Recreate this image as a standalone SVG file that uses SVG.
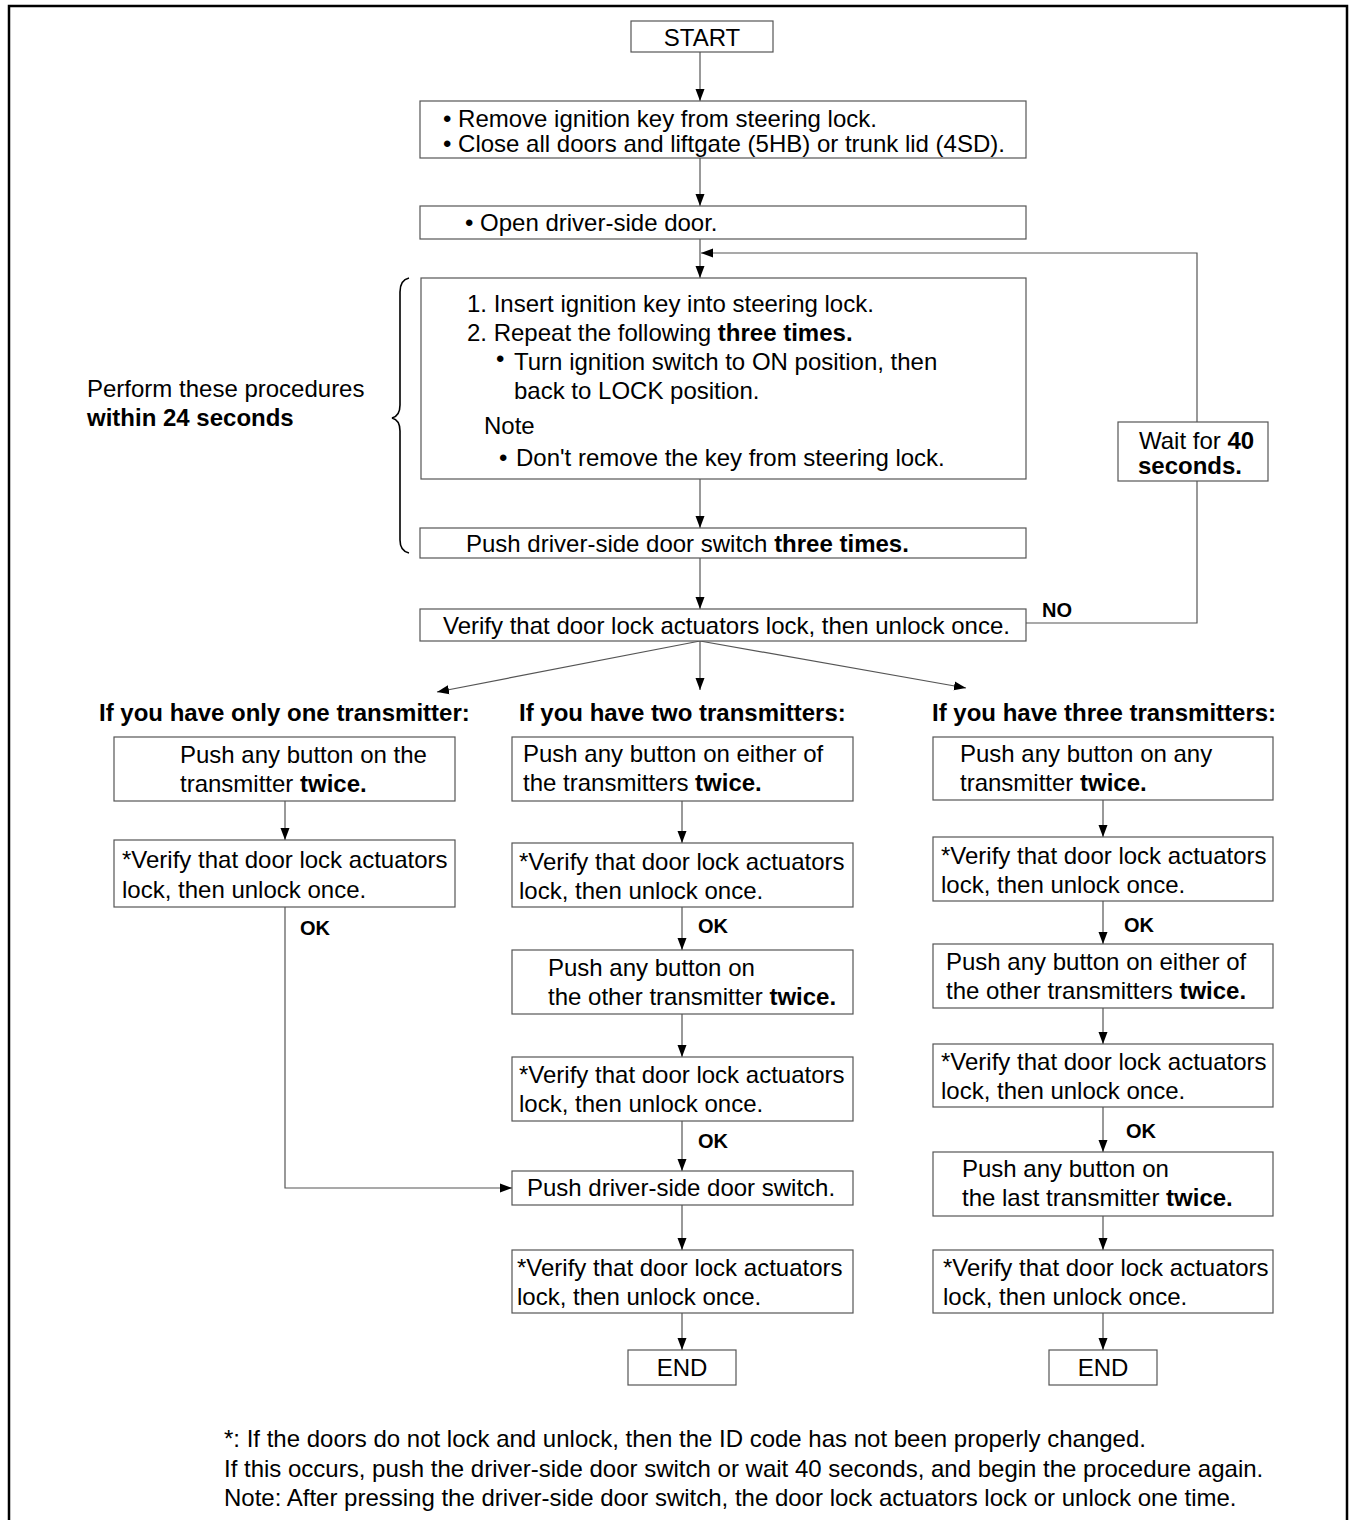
<svg xmlns="http://www.w3.org/2000/svg" width="1354" height="1520" viewBox="0 0 1354 1520">
<style>
text{font-family:"Liberation Sans",Arial,sans-serif;font-size:24px;fill:#000}
.b{font-weight:bold}
.lbl{font-weight:bold;font-size:20px}
.box{fill:#fff;stroke:#555;stroke-width:1.2}
.ln{fill:none;stroke:#555;stroke-width:1.2}
.c{text-anchor:middle}
</style>
<defs>
<marker id="ah" markerUnits="userSpaceOnUse" markerWidth="13" markerHeight="10" refX="12" refY="5" orient="auto">
<path d="M0,0.5 L12,5 L0,9.5 z" fill="#000"/>
</marker>
</defs>
<rect x="0" y="0" width="1354" height="1520" fill="#fff"/>
<path d="M9,1520 V6 H1347 V1520" fill="none" stroke="#000" stroke-width="2.5"/>

<g id="connectors">
<line class="ln" x1="700" y1="52" x2="700" y2="101" marker-end="url(#ah)"/>
<line class="ln" x1="700" y1="158" x2="700" y2="206" marker-end="url(#ah)"/>
<line class="ln" x1="700" y1="239" x2="700" y2="278" marker-end="url(#ah)"/>
<line class="ln" x1="700" y1="479" x2="700" y2="528" marker-end="url(#ah)"/>
<line class="ln" x1="700" y1="558" x2="700" y2="609" marker-end="url(#ah)"/>
<polyline class="ln" points="1026,623 1197,623 1197,253 701,253" marker-end="url(#ah)"/>
<line class="ln" x1="700" y1="641" x2="437" y2="692" marker-end="url(#ah)"/>
<line class="ln" x1="700" y1="641" x2="700" y2="690" marker-end="url(#ah)"/>
<line class="ln" x1="700" y1="641" x2="966" y2="688" marker-end="url(#ah)"/>
<line class="ln" x1="285" y1="801" x2="285" y2="840" marker-end="url(#ah)"/>
<polyline class="ln" points="285,907 285,1188 512,1188" marker-end="url(#ah)"/>
<line class="ln" x1="682" y1="801" x2="682" y2="843" marker-end="url(#ah)"/>
<line class="ln" x1="682" y1="907" x2="682" y2="950" marker-end="url(#ah)"/>
<line class="ln" x1="682" y1="1014" x2="682" y2="1057" marker-end="url(#ah)"/>
<line class="ln" x1="682" y1="1121" x2="682" y2="1171" marker-end="url(#ah)"/>
<line class="ln" x1="682" y1="1205" x2="682" y2="1250" marker-end="url(#ah)"/>
<line class="ln" x1="682" y1="1313" x2="682" y2="1350" marker-end="url(#ah)"/>
<line class="ln" x1="1103" y1="800" x2="1103" y2="837" marker-end="url(#ah)"/>
<line class="ln" x1="1103" y1="901" x2="1103" y2="944" marker-end="url(#ah)"/>
<line class="ln" x1="1103" y1="1008" x2="1103" y2="1044" marker-end="url(#ah)"/>
<line class="ln" x1="1103" y1="1107" x2="1103" y2="1152" marker-end="url(#ah)"/>
<line class="ln" x1="1103" y1="1216" x2="1103" y2="1250" marker-end="url(#ah)"/>
<line class="ln" x1="1103" y1="1313" x2="1103" y2="1350" marker-end="url(#ah)"/>
<text x="1042" y="617" class="lbl">NO</text>
<text x="300" y="935" class="lbl">OK</text>
<text x="698" y="933" class="lbl">OK</text>
<text x="698" y="1148" class="lbl">OK</text>
<text x="1124" y="932" class="lbl">OK</text>
<text x="1126" y="1138" class="lbl">OK</text>
</g>

<g id="start">
<rect class="box" x="631" y="21" width="142" height="31"/>
<text x="702" y="46" class="c">START</text>
</g>
<g id="remove-key">
<rect class="box" x="420" y="101" width="606" height="57"/>
<text x="443" y="127">• Remove ignition key from steering lock.</text>
<text x="443" y="152">• Close all doors and liftgate (5HB) or trunk lid (4SD).</text>
</g>
<g id="open-door">
<rect class="box" x="420" y="206" width="606" height="33"/>
<text x="465" y="231">• Open driver-side door.</text>
</g>
<g id="insert-key">
<rect class="box" x="421" y="278" width="605" height="201"/>
<text x="467" y="312">1. Insert ignition key into steering lock.</text>
<text x="467" y="341">2. Repeat the following <tspan class="b">three times.</tspan></text>
<text x="496" y="367">•</text>
<text x="514" y="370">Turn ignition switch to ON position, then</text>
<text x="514" y="399">back to LOCK position.</text>
<text x="484" y="434">Note</text>
<text x="499" y="466">•</text>
<text x="516" y="466">Don't remove the key from steering lock.</text>
</g>
<g id="push-three">
<rect class="box" x="420" y="528" width="606" height="30"/>
<text x="466" y="552">Push driver-side door switch <tspan class="b">three times.</tspan></text>
</g>
<g id="verify-main">
<rect class="box" x="420" y="609" width="606" height="32"/>
<text x="443" y="634">Verify that door lock actuators lock, then unlock once.</text>
</g>
<g id="wait">
<rect class="box" x="1118" y="422" width="150" height="59"/>
<text x="1139" y="449">Wait for <tspan class="b">40</tspan></text>
<text x="1138" y="474" class="b">seconds.</text>
</g>
<g id="brace">
<path d="M409,278 Q400,280 400,292 V405 Q400,416 392,418 Q400,420 400,431 V540 Q400,551 409,553" fill="none" stroke="#000" stroke-width="1.6"/>
<text x="87" y="397">Perform these procedures</text>
<text x="87" y="426" class="b">within 24 seconds</text>
</g>

<g id="headers">
<text x="99" y="721" class="b">If you have only one transmitter:</text>
<text x="519" y="721" class="b">If you have two transmitters:</text>
<text x="932" y="721" class="b">If you have three transmitters:</text>
</g>

<g id="one-push">
<rect class="box" x="114" y="737" width="341" height="64"/>
<text x="180" y="763">Push any button on the</text>
<text x="180" y="792">transmitter <tspan class="b">twice.</tspan></text>
</g>
<g id="one-verify">
<rect class="box" x="114" y="840" width="341" height="67"/>
<text x="122" y="868">*Verify that door lock actuators</text>
<text x="122" y="898">lock, then unlock once.</text>
</g>

<g id="two-push1">
<rect class="box" x="512" y="737" width="341" height="64"/>
<text x="523" y="762">Push any button on either of</text>
<text x="523" y="791">the transmitters <tspan class="b">twice.</tspan></text>
</g>
<g id="two-verify1">
<rect class="box" x="512" y="843" width="341" height="64"/>
<text x="519" y="870">*Verify that door lock actuators</text>
<text x="519" y="899">lock, then unlock once.</text>
</g>
<g id="two-push2">
<rect class="box" x="512" y="950" width="341" height="64"/>
<text x="548" y="976">Push any button on</text>
<text x="548" y="1005">the other transmitter <tspan class="b">twice.</tspan></text>
</g>
<g id="two-verify2">
<rect class="box" x="512" y="1057" width="341" height="64"/>
<text x="519" y="1083">*Verify that door lock actuators</text>
<text x="519" y="1112">lock, then unlock once.</text>
</g>
<g id="push-door">
<rect class="box" x="512" y="1171" width="341" height="34"/>
<text x="527" y="1196">Push driver-side door switch.</text>
</g>
<g id="two-verify3">
<rect class="box" x="512" y="1250" width="341" height="63"/>
<text x="517" y="1276">*Verify that door lock actuators</text>
<text x="517" y="1305">lock, then unlock once.</text>
</g>
<g id="end-two">
<rect class="box" x="628" y="1350" width="108" height="35"/>
<text x="682" y="1376" class="c">END</text>
</g>

<g id="three-push1">
<rect class="box" x="933" y="737" width="340" height="63"/>
<text x="960" y="762">Push any button on any</text>
<text x="960" y="791">transmitter <tspan class="b">twice.</tspan></text>
</g>
<g id="three-verify1">
<rect class="box" x="933" y="837" width="340" height="64"/>
<text x="941" y="864">*Verify that door lock actuators</text>
<text x="941" y="893">lock, then unlock once.</text>
</g>
<g id="three-push2">
<rect class="box" x="933" y="944" width="340" height="64"/>
<text x="946" y="970">Push any button on either of</text>
<text x="946" y="999">the other transmitters <tspan class="b">twice.</tspan></text>
</g>
<g id="three-verify2">
<rect class="box" x="933" y="1044" width="340" height="63"/>
<text x="941" y="1070">*Verify that door lock actuators</text>
<text x="941" y="1099">lock, then unlock once.</text>
</g>
<g id="three-push3">
<rect class="box" x="933" y="1152" width="340" height="64"/>
<text x="962" y="1177">Push any button on</text>
<text x="962" y="1206">the last transmitter <tspan class="b">twice.</tspan></text>
</g>
<g id="three-verify3">
<rect class="box" x="933" y="1250" width="340" height="63"/>
<text x="943" y="1276">*Verify that door lock actuators</text>
<text x="943" y="1305">lock, then unlock once.</text>
</g>
<g id="end-three">
<rect class="box" x="1049" y="1350" width="108" height="35"/>
<text x="1103" y="1376" class="c">END</text>
</g>

<g id="footnote">
<text x="224" y="1447">*: If the doors do not lock and unlock, then the ID code has not been properly changed.</text>
<text x="224" y="1477">If this occurs, push the driver-side door switch or wait 40 seconds, and begin the procedure again.</text>
<text x="224" y="1506">Note: After pressing the driver-side door switch, the door lock actuators lock or unlock one time.</text>
</g>
</svg>
